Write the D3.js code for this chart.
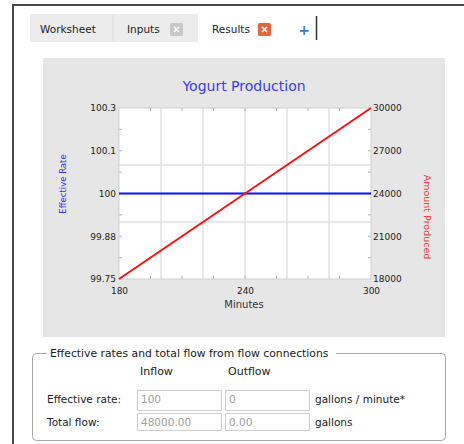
<!DOCTYPE html>
<html>
<head>
<meta charset="utf-8">
<script src="https://cdn.jsdelivr.net/npm/d3@7"></script>
<style>
  body { margin: 0; background: #fff; }
  svg text { font-family: "DejaVu Sans", Verdana, sans-serif; }
</style>
</head>
<body>
<div id="page"></div>
<script>
// values
const minutes = [180, 200, 220, 240, 260, 280, 300];
const amountProduced = [18000, 20000, 22000, 24000, 26000, 28000, 30000];
const effectiveRate = [100, 100, 100, 100, 100, 100, 100];
const xTicks = [180, 240, 300];
const rateTicks = [99.75, 99.875, 100, 100.125, 100.25];
const amountTicks = [18000, 21000, 24000, 27000, 30000];
const tabNames = ["Worksheet", "Inputs", "Results"];
const flowColumns = ["Inflow", "Outflow"];
const flowRows = ["Effective rate:", "Total flow:"];
const flowValues = [["100", "0"], ["48000.00", "0.00"]];
const flowUnits = ["gallons / minute*", "gallons"];

const svg = d3.select("#page").append("svg")
    .attr("width", 464)
    .attr("height", 444);

// window frame
svg.append("path")
    .attr("d", "M13,444 V5 H464")
    .attr("fill", "none")
    .attr("stroke", "#4a4a4a")
    .attr("stroke-width", 2);

// tabs
const tabX = [30, 113, 198, 292];
tabNames.forEach(function (name, i) {
    const active = i === 2;
    svg.append("rect")
        .attr("x", tabX[i]).attr("y", 14)
        .attr("width", tabX[i + 1] - tabX[i]).attr("height", 28)
        .attr("fill", active ? "#ffffff" : "#ececec");
    svg.append("text")
        .attr("x", tabX[i] + (i === 0 ? 10 : 14)).attr("y", 33)
        .attr("font-size", 10.5).attr("fill", "#222")
        .text(name);
    if (i > 0) {
        const bx = i === 1 ? 170 : 258;
        svg.append("rect")
            .attr("x", bx).attr("y", 23).attr("width", 13).attr("height", 13)
            .attr("rx", 1.5)
            .attr("fill", active ? "#e5653f" : "#c8c8c8");
        svg.append("path")
            .attr("d", `M${bx + 4},27 l5,5 M${bx + 9},27 l-5,5`)
            .attr("stroke", "#fff").attr("stroke-width", 1.6);
    }
});
svg.append("line").attr("x1", 113).attr("x2", 113).attr("y1", 15).attr("y2", 41)
    .attr("stroke", "#dcdcdc");
svg.append("text")
    .attr("x", 304).attr("y", 35).attr("text-anchor", "middle")
    .attr("font-size", 14).attr("font-weight", "bold").attr("fill", "#3b7dd8")
    .text("+");
svg.append("line").attr("x1", 316.5).attr("x2", 316.5).attr("y1", 16).attr("y2", 40)
    .attr("stroke", "#333").attr("stroke-width", 1.5);

// chart panel
svg.append("rect")
    .attr("x", 43).attr("y", 58).attr("width", 402).attr("height", 279)
    .attr("fill", "#e6e6e6");

const margin = {top: 108, right: 93, bottom: 165, left: 119};
const width = 464 - margin.left - margin.right,
      height = 444 - margin.top - margin.bottom;

const chart = svg.append("g")
    .attr("transform", "translate(" + margin.left + "," + margin.top + ")");

const x = d3.scaleLinear().domain([180, 300]).range([0, width]);
const yRate = d3.scaleLinear().domain([99.75, 100.25]).range([height, 0]);
const yAmount = d3.scaleLinear().domain([18000, 30000]).range([height, 0]);

chart.append("rect")
    .attr("width", width).attr("height", height)
    .attr("fill", "#fff");

// grid
chart.selectAll(".vgrid")
    .data(d3.range(200, 300, 20))
    .enter().append("line")
    .attr("x1", d => x(d)).attr("x2", d => x(d))
    .attr("y1", 0).attr("y2", height)
    .attr("stroke", "#e2e2e2").attr("stroke-width", 1.5);
chart.selectAll(".hgrid")
    .data([22000, 24000, 26000])
    .enter().append("line")
    .attr("x1", 0).attr("x2", width)
    .attr("y1", d => yAmount(d)).attr("y2", d => yAmount(d))
    .attr("stroke", "#e2e2e2").attr("stroke-width", 1.5);

// inner minor ticks
const tickColor = "#b0b0b0";
d3.range(195, 300, 15).forEach(function (m) {
    [0, height].forEach(function (yy) {
        chart.append("line")
            .attr("x1", x(m)).attr("x2", x(m))
            .attr("y1", yy).attr("y2", yy === 0 ? 3 : height - 3)
            .attr("stroke", tickColor);
    });
});
d3.range(99.8125, 100.25, 0.0625).forEach(function (r) {
    [0, width].forEach(function (xx) {
        chart.append("line")
            .attr("x1", xx).attr("x2", xx === 0 ? 3 : width - 3)
            .attr("y1", yRate(r)).attr("y2", yRate(r))
            .attr("stroke", tickColor);
    });
});

chart.append("rect")
    .attr("width", width).attr("height", height)
    .attr("fill", "none").attr("stroke", "#d0d0d0");

// lines
const rateLine = d3.line()
    .x((d, i) => x(minutes[i]))
    .y(d => yRate(d));
const amountLine = d3.line()
    .x((d, i) => x(minutes[i]))
    .y(d => yAmount(d));

chart.append("path")
    .datum(effectiveRate)
    .attr("d", rateLine)
    .attr("fill", "none").attr("stroke", "#1010ff").attr("stroke-width", 2);
chart.append("path")
    .datum(amountProduced)
    .attr("d", amountLine)
    .attr("fill", "none").attr("stroke", "#ff1010").attr("stroke-width", 2);

// axes
const fmtRate = d3.format(".4~r");
const leftAxis = chart.append("g")
    .call(d3.axisLeft(yRate).tickValues(rateTicks).tickFormat(fmtRate).tickSize(0).tickPadding(3));
const rightAxis = chart.append("g")
    .attr("transform", "translate(" + width + ",0)")
    .call(d3.axisRight(yAmount).tickValues(amountTicks).tickFormat(d3.format("d")).tickSize(0).tickPadding(2));
const bottomAxis = chart.append("g")
    .attr("transform", "translate(0," + height + ")")
    .call(d3.axisBottom(x).tickValues(xTicks).tickSize(0).tickPadding(9));

[leftAxis, rightAxis, bottomAxis].forEach(function (a) {
    a.select(".domain").remove();
    a.selectAll("text")
        .attr("font-family", "'DejaVu Sans', Verdana, sans-serif")
        .attr("font-size", 9)
        .attr("fill", "#222");
});

// titles
svg.append("text")
    .attr("x", 244).attr("y", 91).attr("text-anchor", "middle")
    .attr("font-size", 14).attr("fill", "#3a3aff")
    .text("Yogurt Production");
svg.append("text")
    .attr("x", 244).attr("y", 308).attr("text-anchor", "middle")
    .attr("font-size", 10).attr("fill", "#333")
    .text("Minutes");
svg.append("text")
    .attr("transform", "translate(66,184) rotate(-90)")
    .attr("text-anchor", "middle")
    .attr("font-size", 8.5).attr("fill", "#3030ff")
    .text("Effective Rate");
svg.append("text")
    .attr("transform", "translate(424,217) rotate(90)")
    .attr("text-anchor", "middle")
    .attr("font-size", 9.5).attr("fill", "#ff3a3a")
    .text("Amount Produced");

// flow group box
svg.append("rect")
    .attr("x", 32.5).attr("y", 353.5).attr("width", 413).attr("height", 87)
    .attr("rx", 4)
    .attr("fill", "none").attr("stroke", "#a8a8a8");
svg.append("rect")
    .attr("x", 47).attr("y", 346).attr("width", 289).attr("height", 14)
    .attr("fill", "#fff");
svg.append("text")
    .attr("x", 50).attr("y", 357)
    .attr("font-size", 10.8).attr("fill", "#222")
    .text("Effective rates and total flow from flow connections");

const colX = [137, 225];
flowColumns.forEach(function (c, i) {
    svg.append("text")
        .attr("x", colX[i] + 3).attr("y", 375)
        .attr("font-size", 11).attr("fill", "#222")
        .text(c);
});
const rowY = [390, 413];
flowRows.forEach(function (r, j) {
    svg.append("text")
        .attr("x", 47).attr("y", rowY[j] + 13)
        .attr("font-size", 10.5).attr("fill", "#222")
        .text(r);
    flowValues[j].forEach(function (v, i) {
        svg.append("rect")
            .attr("x", colX[i] + 0.5).attr("y", rowY[j] + 0.5)
            .attr("width", 84).attr("height", j === 0 ? 20 : 17)
            .attr("fill", "#fff").attr("stroke", "#cfcfcf");
        svg.append("text")
            .attr("x", colX[i] + 4).attr("y", rowY[j] + 13)
            .attr("font-size", 10.5).attr("fill", "#a0a0a0")
            .text(v);
    });
    svg.append("text")
        .attr("x", 315).attr("y", rowY[j] + 13)
        .attr("font-size", 10.5).attr("fill", "#222")
        .text(flowUnits[j]);
});
</script>
</body>
</html>
